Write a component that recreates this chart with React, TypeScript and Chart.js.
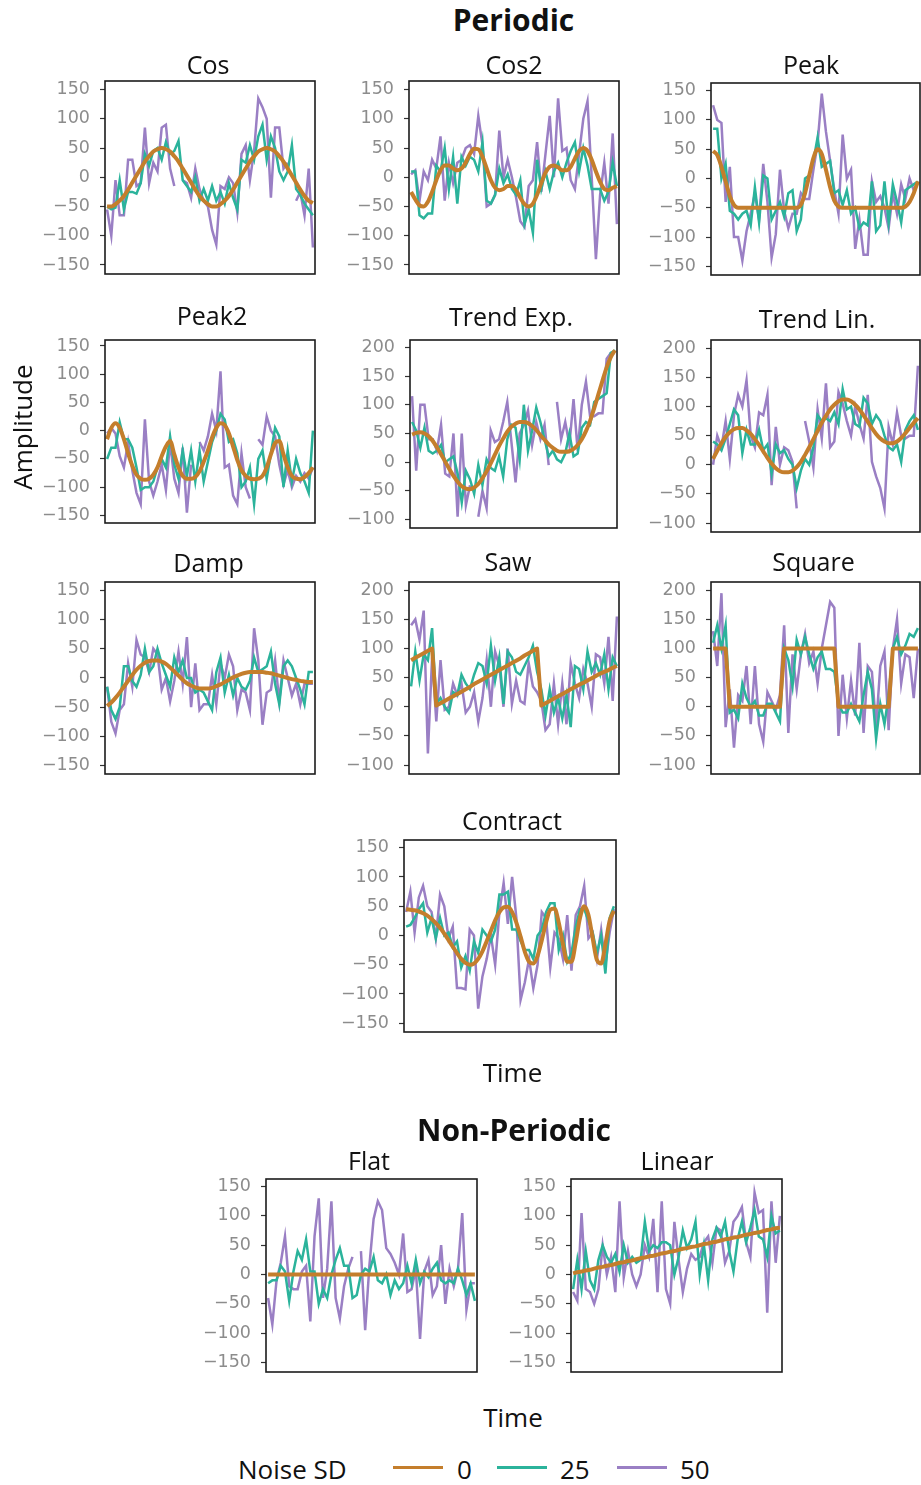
import { useEffect, useRef } from 'react';
import { Chart, registerables } from 'chart.js';

Chart.register(...registerables);

// Series colours: noise SD 0 / 25 / 50
const ORANGE = '#c47e2c';
const TEAL = '#2bb39b';
const PURPLE = '#9a7fc4';

const TICKS_150 = [-150, -100, -50, 0, 50, 100, 150];
const TICKS_200 = [-100, -50, 0, 50, 100, 150, 200];

const NOISE_LEVELS = ['0', '25', '50'];

// ---- Periodic ----
const cos0 = [-50,-50,-46,-40,-32,-21,-9,3,15,27,36,44,48,50,48,44,36,27,15,3,-9,-21,-32,-40,-46,-50,-50,-46,-40,-32,-21,-9,3,15,27,36,44,48,50,48,44,36,27,15,3,-9,-21,-32,-40,-44];
const cos25 = [-50,-55,-52,-5,-55,-25,-25,-28,-10,40,20,45,50,30,60,40,45,62,-5,-15,-25,0,-40,-20,-40,-15,-40,-25,-45,-10,-35,-55,30,25,55,30,70,90,30,70,50,10,-5,10,55,-20,-30,-45,-55,-65];
const cos50 = [-55,-100,-5,-65,-65,30,30,-15,-10,85,-10,25,10,85,90,15,-15,null,-5,-10,-35,15,-20,-40,-50,-90,-115,-15,-20,0,-10,-60,40,55,-5,45,135,120,100,-35,85,85,15,25,null,-40,-25,-65,15,-120];

const cos2_0 = [-25,-38,-48,-50,-42,-25,-5,12,20,20,15,12,15,25,40,49,48,35,15,-5,-18,-22,-20,-15,-15,-22,-35,-46,-50,-45,-30,-10,8,18,20,17,12,12,18,32,45,50,45,30,10,-8,-20,-22,-18,-15];
const cos2_25 = [10,10,-65,-70,-62,-62,20,10,50,-20,35,-45,35,20,35,30,10,60,-40,-45,-30,15,-10,5,-20,-30,-5,-80,-55,-95,30,-20,10,-20,10,25,0,25,45,60,10,50,20,-20,-20,-20,-40,-25,25,-15];
const cos2_50 = [5,12,-40,10,-5,30,15,70,-40,25,-10,25,30,50,55,40,105,55,-50,-45,-30,80,0,30,0,-35,-75,-85,-15,-5,60,-25,40,105,0,135,45,50,-5,-20,40,100,130,0,-140,-30,25,-45,75,-80];

const peak0 = [47,40,20,-5,-30,-45,-50,-50,-50,-50,-50,-50,-50,-50,-50,-50,-50,-50,-50,-50,-50,-45,-25,5,35,50,42,15,-15,-38,-48,-50,-50,-50,-50,-50,-50,-50,-50,-50,-50,-50,-50,-50,-50,-50,-48,-40,-25,-5];
const peak25 = [85,85,0,25,-55,-60,-70,-60,-55,-80,-15,-75,5,0,-70,-55,-40,-65,-25,-20,-90,-70,0,5,30,70,20,25,30,-25,-20,-45,-20,-60,-50,-85,-75,-80,-5,-90,-80,-5,-75,-10,-40,-75,-20,-15,-10,-5];
const peak50 = [125,100,95,-40,20,-100,-100,-140,-90,-60,-25,-70,25,-40,-135,-95,15,-55,-85,-60,-60,-25,-35,-35,15,60,145,80,30,-20,-60,75,0,15,-120,-70,-130,-130,-5,-40,-30,-50,-85,-25,-60,-10,-35,0,-20,-5];

const peak2_0 = [-15,5,13,5,-15,-40,-62,-78,-85,-87,-85,-78,-65,-45,-28,-18,-42,-65,-80,-85,-85,-82,-72,-55,-35,-12,5,13,10,-5,-28,-52,-70,-80,-85,-86,-85,-80,-65,-42,-22,-18,-42,-65,-80,-85,-86,-82,-75,-65];
const peak2_25 = [-50,-30,-30,15,-15,-15,-30,-65,-105,-100,-100,-90,-65,-50,-65,-10,-60,-85,-35,-80,-35,-90,-35,-90,-55,-20,0,30,20,-20,-15,-40,-100,-90,-65,-130,-50,-35,-85,-40,5,-10,-100,-35,-90,-50,-75,-90,-110,0];
const peak2_50 = [-5,5,-5,-45,-65,-20,-70,-110,-130,20,-90,-115,-90,-60,-105,-20,-85,-110,-30,-145,-60,null,-20,-35,-10,30,0,105,-65,-60,-115,-130,-40,-100,-120,null,-15,-25,25,0,-10,-60,-95,-70,-100,-80,-90,-75,-85,-65];

const trendExp0 = [48,51,52,50,45,37,26,14,1,-12,-24,-34,-42,-46,-47,-44,-38,-28,-16,-2,13,28,41,53,62,67,70,70,68,63,56,47,39,31,25,20,18,18,19,23,30,40,54,72,94,118,142,165,183,195];
const trendExp25 = [70,55,25,60,20,15,20,30,0,5,10,-20,-70,-15,-30,-55,-5,-40,5,-10,-15,10,-25,40,65,60,5,100,20,55,95,70,40,10,20,5,0,15,50,10,15,60,70,65,105,110,115,120,190,195];
const trendExp50 = [115,-15,100,100,40,40,20,65,-20,-25,50,-95,50,-75,-40,null,-95,-50,-80,55,35,40,70,105,35,-35,50,65,90,30,70,40,65,-5,null,105,40,70,30,110,20,100,140,80,80,85,85,180,190,190];

const trendLin0 = [10,24,37,48,56,61,63,63,59,53,44,34,23,12,2,-6,-11,-13,-13,-10,-4,5,17,30,44,58,72,84,95,103,109,112,112,109,103,95,85,74,63,53,45,40,37,37,40,46,54,63,72,80];
const trendLin25 = [40,35,25,45,70,95,85,20,60,35,35,60,25,35,-15,35,20,25,10,0,-40,-10,10,0,30,85,75,80,75,90,70,130,95,100,70,65,115,105,70,85,75,50,30,25,35,5,60,75,85,60];
const trendLin50 = [0,50,30,75,10,85,120,100,145,50,30,90,85,120,-35,65,0,30,25,5,-75,null,75,40,-5,95,45,140,30,40,125,105,75,50,100,70,45,120,5,-20,-40,-75,65,35,90,50,45,50,50,170];

const damp0 = [-48,-42,-34,-25,-15,-5,5,14,21,26,29,30,30,28,24,18,11,4,-3,-9,-13,-16,-18,-18,-18,-17,-14,-11,-7,-3,1,4,7,9,10,10,10,10,9,8,6,4,2,0,-2,-3,-5,-6,-7,-7];
const damp25 = [-15,-55,-70,-50,20,20,-5,-15,5,50,10,20,50,25,5,-15,35,10,30,0,0,-25,-20,-25,-40,-55,10,35,-25,5,-30,0,-15,-20,-5,35,10,15,20,45,-10,-45,20,30,20,0,-20,-45,10,10];
const damp50 = [-15,-75,-95,-55,-45,25,-15,65,40,35,10,50,40,-20,0,-40,-5,45,-10,70,-50,25,-55,-45,-45,5,-45,25,0,40,20,-55,-20,-25,-55,85,30,-80,-25,-20,30,-40,30,0,-30,-10,-45,-10,-10,-10];

const saw0 = [80,84,88,92,96,100,2,6,10,14,18,22,26,30,34,39,43,47,51,55,59,63,67,71,75,79,83,88,92,96,100,2,6,10,14,18,22,26,30,34,38,41,45,49,53,57,60,63,67,70];
const saw25 = [35,95,45,90,80,135,5,15,0,-10,25,20,55,40,30,55,75,70,40,105,45,85,5,95,85,60,55,70,85,105,60,30,-15,30,-10,15,-20,20,-35,70,65,30,95,60,75,55,90,30,85,70];
const saw50 = [140,150,115,165,-80,85,-25,80,-5,0,40,20,40,-10,0,25,-25,15,80,0,95,70,0,100,5,45,10,5,75,35,25,10,-40,-30,40,-30,40,-30,75,40,15,65,40,0,90,85,40,120,10,155];

const square0 = [100,100,100,100,0,0,0,0,0,0,0,0,0,0,0,0,0,100,100,100,100,100,100,100,100,100,100,100,100,100,0,0,0,0,0,0,0,0,0,0,0,0,0,100,100,100,100,100,100,100];
const square25 = [110,140,100,140,-10,-5,-20,40,15,0,10,-15,-15,5,5,-10,-25,100,80,35,115,90,120,90,65,85,95,65,65,60,5,-10,-10,5,-10,-25,20,60,30,-55,5,-30,20,100,120,90,105,125,120,135];
const square50 = [130,70,195,-35,30,-70,20,10,70,-30,70,-30,-60,25,10,-5,20,140,-45,90,30,90,125,75,95,40,100,140,180,170,-50,55,-20,45,-15,110,-45,70,60,-35,70,95,-40,100,150,40,90,85,15,100];

const contract0 = [45,44,43,41,38,34,28,21,13,3,-8,-19,-30,-40,-47,-50,-48,-40,-27,-10,8,26,40,48,49,40,22,-2,-28,-45,-48,-35,-8,22,44,46,22,-15,-45,-45,-12,30,50,35,-5,-42,-48,-15,25,42];
const contract25 = [15,18,30,45,55,5,30,-5,30,0,5,-20,-10,-55,-35,-60,-10,-30,10,0,-10,10,70,70,75,10,10,-10,-25,-25,-40,0,10,40,55,55,-25,0,-45,-30,15,45,45,25,5,-30,0,-65,30,50];
const contract50 = [40,75,5,65,85,50,40,-5,70,50,-5,15,-90,-90,-92,10,0,-125,-70,-40,0,-50,40,90,20,100,30,-110,-80,-40,-90,-50,40,30,-55,5,-5,-40,35,-60,35,50,85,-5,5,-40,10,-50,5,45];

// ---- Non-periodic ----
const flat0 = [0,0,0,0,0,0,0,0,0,0,0,0,0,0,0,0,0,0,0,0,0,0,0,0,0,0,0,0,0,0,0,0,0,0,0,0,0,0,0,0,0,0,0,0,0,0,0,0,0,0];
const flat25 = [-15,-10,-10,15,5,-45,5,40,25,60,5,5,-50,-25,-40,0,25,45,15,15,-40,-35,0,10,5,30,-10,-15,0,-35,-10,-25,-15,15,-15,25,-15,5,-5,10,20,-10,-15,-10,-15,10,-10,-35,-15,-45];
const flat50 = [-40,-85,-10,20,65,-20,-25,-25,5,15,-80,65,130,-40,10,125,-40,-75,-20,10,30,null,40,-95,15,95,125,110,45,35,20,0,70,-30,-25,10,-110,5,25,-35,-20,50,-50,10,-20,10,105,-60,-15,-15];

const linear0 = [2,4,5,7,8,10,12,13,15,16,18,20,21,23,24,26,28,29,31,32,34,36,37,39,40,42,44,45,47,48,50,52,53,55,56,58,60,61,63,64,66,68,69,71,72,74,76,77,79,80];
const linear25 = [-25,25,-25,40,-10,-25,25,50,30,20,35,5,50,20,30,20,25,90,40,50,45,55,55,50,0,30,75,45,60,90,0,50,-10,60,80,65,90,40,5,60,90,55,80,110,65,60,30,100,70,75];
const linear50 = [-30,-45,105,-25,-30,-50,-25,50,0,30,-30,125,-5,40,0,-20,0,50,30,95,-30,125,-25,-50,90,25,-30,10,35,25,30,55,65,20,80,75,20,40,90,100,115,55,30,140,105,110,-65,125,20,100];

type Series = (number | null)[];

interface PanelSpec {
  title: string;
  clean: Series;
  sd25: Series;
  sd50: Series;
  smooth: boolean;
  ticks: number[];
  yMin: number;
  yMax: number;
  box: [number, number, number, number]; // left, top, right, bottom of the plot frame
  titleX: number;
  titleBase: number;
}

const PANELS: PanelSpec[] = [
  { title: 'Cos', clean: cos0, sd25: cos25, sd50: cos50, smooth: true, ticks: TICKS_150, yMin: -165.4, yMax: 164.7, box: [105, 81, 315, 274], titleX: 208, titleBase: 74 },
  { title: 'Cos2', clean: cos2_0, sd25: cos2_25, sd50: cos2_50, smooth: true, ticks: TICKS_150, yMin: -165.4, yMax: 164.7, box: [409, 81, 619, 274], titleX: 514, titleBase: 74 },
  { title: 'Peak', clean: peak0, sd25: peak25, sd50: peak50, smooth: true, ticks: TICKS_150, yMin: -164.7, yMax: 163, box: [711, 83, 920, 275], titleX: 811, titleBase: 74 },
  { title: 'Peak2', clean: peak2_0, sd25: peak2_25, sd50: peak2_50, smooth: true, ticks: TICKS_150, yMin: -163.4, yMax: 160.6, box: [105, 340, 315, 523], titleX: 212, titleBase: 325 },
  { title: 'Trend Exp.', clean: trendExp0, sd25: trendExp25, sd50: trendExp50, smooth: true, ticks: TICKS_200, yMin: -114.6, yMax: 212.7, box: [410, 340, 617, 528], titleX: 511, titleBase: 326.5 },
  { title: 'Trend Lin.', clean: trendLin0, sd25: trendLin25, sd50: trendLin50, smooth: true, ticks: TICKS_200, yMin: -115.4, yMax: 214.2, box: [711, 340, 920, 532], titleX: 817, titleBase: 328 },
  { title: 'Damp', clean: damp0, sd25: damp25, sd50: damp50, smooth: true, ticks: TICKS_150, yMin: -164.2, yMax: 164.1, box: [105, 582, 315, 774], titleX: 208.5, titleBase: 571.7 },
  { title: 'Saw', clean: saw0, sd25: saw25, sd50: saw50, smooth: false, ticks: TICKS_200, yMin: -115.4, yMax: 214.2, box: [409, 582, 619, 774], titleX: 508, titleBase: 571.5 },
  { title: 'Square', clean: square0, sd25: square25, sd50: square50, smooth: false, ticks: TICKS_200, yMin: -115.4, yMax: 214.2, box: [711, 582, 920, 774], titleX: 813.5, titleBase: 571.5 },
  { title: 'Contract', clean: contract0, sd25: contract25, sd50: contract50, smooth: true, ticks: TICKS_150, yMin: -165, yMax: 163.2, box: [404, 840, 616, 1032], titleX: 512, titleBase: 830 },
  { title: 'Flat', clean: flat0, sd25: flat25, sd50: flat50, smooth: false, ticks: TICKS_150, yMin: -166.4, yMax: 163, box: [266, 1179, 477, 1372], titleX: 369, titleBase: 1170 },
  { title: 'Linear', clean: linear0, sd25: linear25, sd50: linear50, smooth: false, ticks: TICKS_150, yMin: -166.4, yMax: 163, box: [571, 1179, 782, 1372], titleX: 677, titleBase: 1170 },
];

const AXIS_W = 80;
const PAD_T = 24;
const PAD_B = 24;
const PAD_R = 4;

const TEXT_FONT = '"Open Sans", "Noto Sans", sans-serif';
const TICK_FONT = '"DejaVu Sans", sans-serif';

const toPoints = (values: Series) => values.map((v, i) => ({ x: i, y: v }));

const minusFormat = (v: number | string) => {
  const n = Number(v);
  return n < 0 ? '\u2212' + Math.abs(n) : String(n);
};

// Black frame around the plotting area
const framePlugin = {
  id: 'frame',
  afterDatasetsDraw(chart: any) {
    const { ctx, chartArea: a } = chart;
    ctx.save();
    ctx.strokeStyle = '#1c1c1c';
    ctx.lineWidth = 1.6;
    ctx.strokeRect(a.left, a.top, a.right - a.left, a.bottom - a.top);
    ctx.restore();
  },
};

function PanelChart({ spec }: { spec: PanelSpec }) {
  const ref = useRef<HTMLCanvasElement>(null);
  const [l, t, r, b] = spec.box;
  const w = AXIS_W + (r - l) + PAD_R;
  const h = b - t + PAD_T + PAD_B;

  useEffect(() => {
    if (!ref.current) return;
    const n = spec.clean.length;
    const chart = new Chart(ref.current, {
      type: 'line',
      data: {
        datasets: [
          {
            label: NOISE_LEVELS[0],
            data: toPoints(spec.clean),
            borderColor: ORANGE,
            borderWidth: 4,
            tension: spec.smooth ? 0.4 : 0,
            cubicInterpolationMode: spec.smooth ? 'monotone' : 'default',
            pointRadius: 0,
            borderJoinStyle: 'round',
          },
          {
            label: NOISE_LEVELS[1],
            data: toPoints(spec.sd25),
            borderColor: TEAL,
            borderWidth: 2.5,
            tension: 0,
            pointRadius: 0,
            spanGaps: false,
          },
          {
            label: NOISE_LEVELS[2],
            data: toPoints(spec.sd50),
            borderColor: PURPLE,
            borderWidth: 2.5,
            tension: 0,
            pointRadius: 0,
            spanGaps: false,
          },
        ],
      } as any,
      options: {
        animation: false,
        responsive: false,
        maintainAspectRatio: false,
        devicePixelRatio: 1,
        events: [],
        layout: { padding: { top: PAD_T, bottom: PAD_B, right: PAD_R, left: 0 } },
        plugins: { legend: { display: false }, tooltip: { enabled: false }, title: { display: false } },
        scales: {
          x: { type: 'linear', min: -0.5, max: n - 0.5, display: false },
          y: {
            type: 'linear',
            min: spec.yMin,
            max: spec.yMax,
            afterBuildTicks: (scale: any) => {
              scale.ticks = spec.ticks.map((v) => ({ value: v }));
            },
            afterFit: (scale: any) => {
              scale.width = AXIS_W;
            },
            border: { display: false },
            grid: {
              drawOnChartArea: false,
              drawTicks: true,
              tickLength: 5,
              tickColor: '#333333',
              tickWidth: 1.2,
            },
            ticks: {
              padding: 10,
              color: '#8c8c8c',
              font: { family: TICK_FONT, size: 17.5 },
              callback: (v: any) => minusFormat(v),
              autoSkip: false,
            },
          },
        },
      } as any,
      plugins: [framePlugin],
    });
    return () => chart.destroy();
  }, [spec]);

  return (
    <canvas
      ref={ref}
      width={w}
      height={h}
      style={{ position: 'absolute', left: l - AXIS_W, top: t - PAD_T, width: w, height: h }}
    />
  );
}

function Caption({ text, cx, base, size, weight = 400 }: { text: string; cx: number; base: number; size: number; weight?: number }) {
  return (
    <div
      style={{
        position: 'absolute',
        left: cx - 200,
        width: 400,
        top: base - 0.888 * size,
        height: size,
        lineHeight: `${size}px`,
        fontSize: size,
        fontWeight: weight,
        textAlign: 'center',
        whiteSpace: 'nowrap',
        color: '#111',
      }}
    >
      {text}
    </div>
  );
}

function LeftText({ text, left, base, size }: { text: string; left: number; base: number; size: number }) {
  return (
    <div
      style={{
        position: 'absolute',
        left,
        top: base - 0.888 * size,
        height: size,
        lineHeight: `${size}px`,
        fontSize: size,
        whiteSpace: 'nowrap',
        color: '#111',
      }}
    >
      {text}
    </div>
  );
}

function Swatch({ left, color, thick }: { left: number; color: string; thick: number }) {
  return (
    <div
      style={{
        position: 'absolute',
        left,
        top: 1467.3 - thick / 2,
        width: 50,
        height: thick,
        background: color,
      }}
    />
  );
}

export default function App() {
  return (
    <div
      style={{
        position: 'absolute',
        left: 0,
        top: 0,
        width: 921,
        height: 1485,
        overflow: 'hidden',
        background: '#ffffff',
        fontFamily: TEXT_FONT,
      }}
    >
      {PANELS.map((p) => (
        <PanelChart key={p.title} spec={p} />
      ))}

      <Caption text="Periodic" cx={513.5} base={31.7} size={30} weight={700} />
      {PANELS.map((p) => (
        <Caption key={'t' + p.title} text={p.title} cx={p.titleX} base={p.titleBase} size={25} />
      ))}
      <Caption text="Time" cx={512.5} base={1081.7} size={26} />
      <Caption text="Non-Periodic" cx={514} base={1141.7} size={30} weight={700} />
      <Caption text="Time" cx={513} base={1426.7} size={26} />

      <div
        style={{
          position: 'absolute',
          left: 21.9 - 100,
          top: 426.5 - 13,
          width: 200,
          height: 26,
          lineHeight: '26px',
          fontSize: 26,
          textAlign: 'center',
          color: '#111',
          transform: 'rotate(-90deg)',
          transformOrigin: '50% 50%',
          whiteSpace: 'nowrap',
        }}
      >
        Amplitude
      </div>

      <LeftText text="Noise SD" left={238} base={1479} size={26} />
      <Swatch left={393} color={ORANGE} thick={3.6} />
      <LeftText text={NOISE_LEVELS[0]} left={457} base={1479} size={26} />
      <Swatch left={497} color={TEAL} thick={2.8} />
      <LeftText text={NOISE_LEVELS[1]} left={560} base={1479} size={26} />
      <Swatch left={617} color={PURPLE} thick={2.8} />
      <LeftText text={NOISE_LEVELS[2]} left={680} base={1479} size={26} />
    </div>
  );
}
